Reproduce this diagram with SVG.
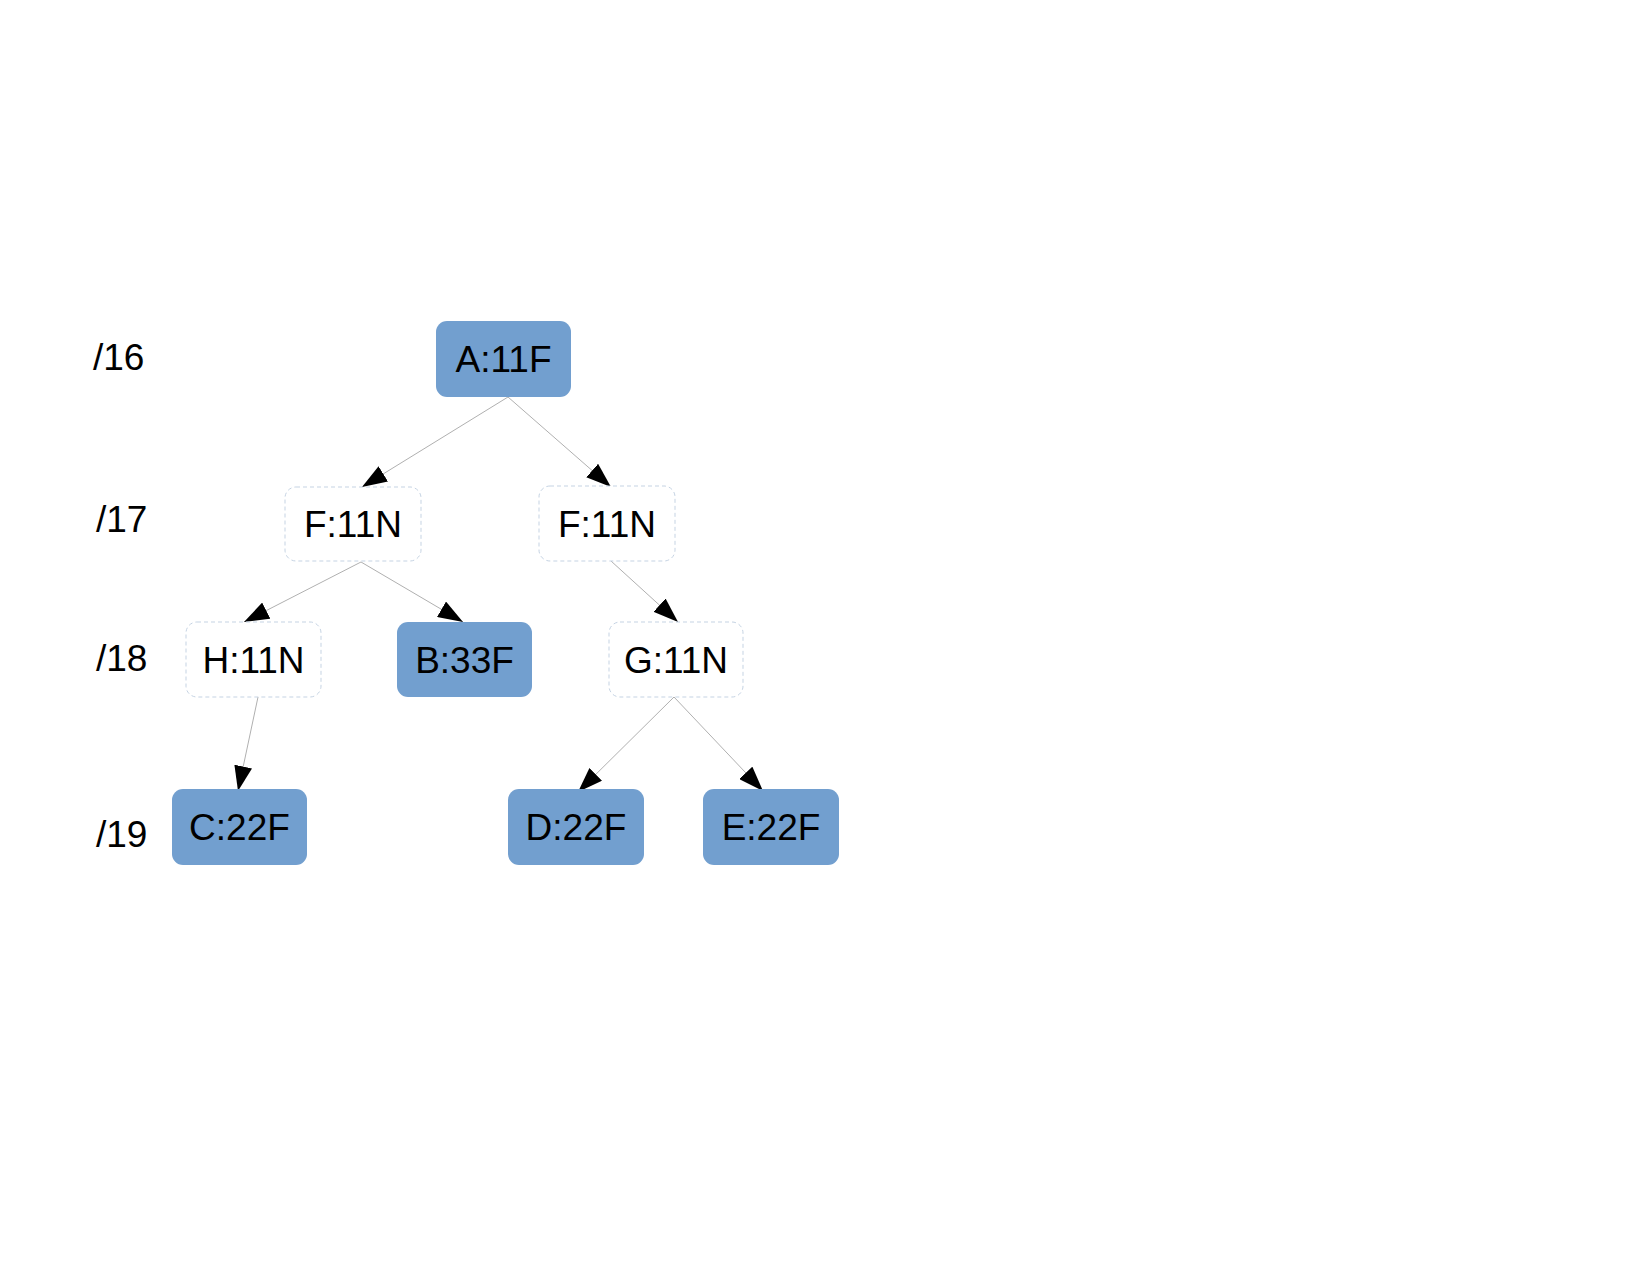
<svg xmlns="http://www.w3.org/2000/svg" width="1650" height="1275" viewBox="0 0 1650 1275">
<style>
.full rect{fill:#729fcf;stroke:none}
.empty rect{fill:#ffffff;stroke:#c5d3e3;stroke-width:1;stroke-dasharray:4 3}
text{font-family:"Liberation Sans",Arial,sans-serif;font-size:37px;fill:#000}
.node text{text-anchor:middle}
#edges line{stroke:#b0b0b0;stroke-width:1;marker-end:url(#ah)}
</style>
<defs>
<marker id="ah" markerUnits="userSpaceOnUse" markerWidth="25" markerHeight="18" refX="25" refY="9" orient="auto">
<path d="M0,0 L25,9 L0,18 z" fill="#000"/>
</marker>
</defs>
<rect width="1650" height="1275" fill="#fff"/>
<g id="levels">
<text x="93" y="370">/16</text>
<text x="96" y="532">/17</text>
<text x="96" y="671">/18</text>
<text x="96" y="847">/19</text>
</g>
<g id="edges">
<line x1="508" y1="397" x2="362" y2="487"/>
<line x1="508" y1="397" x2="611" y2="487"/>
<line x1="361" y1="562" x2="244" y2="622"/>
<line x1="361" y1="562" x2="463" y2="622"/>
<line x1="611" y1="561" x2="678" y2="622"/>
<line x1="258" y1="697" x2="238" y2="791"/>
<line x1="674" y1="697" x2="578" y2="792"/>
<line x1="674" y1="697" x2="763" y2="791"/>
</g>
<g id="nodeA" class="node full"><rect x="436" y="321" width="135" height="76" rx="11"/><text x="503.5" y="372">A:11F</text></g>
<g id="nodeF1" class="node empty"><rect x="285" y="487" width="136" height="74" rx="11"/><text x="353" y="537">F:11N</text></g>
<g id="nodeF2" class="node empty"><rect x="539" y="486" width="136" height="75" rx="11"/><text x="607" y="537">F:11N</text></g>
<g id="nodeH" class="node empty"><rect x="186" y="622" width="135" height="75" rx="11"/><text x="253.5" y="673">H:11N</text></g>
<g id="nodeB" class="node full"><rect x="397" y="622" width="135" height="75" rx="11"/><text x="464.5" y="673">B:33F</text></g>
<g id="nodeG" class="node empty"><rect x="609" y="622" width="134" height="75" rx="11"/><text x="676" y="673">G:11N</text></g>
<g id="nodeC" class="node full"><rect x="172" y="789" width="135" height="76" rx="11"/><text x="239.5" y="840">C:22F</text></g>
<g id="nodeD" class="node full"><rect x="508" y="789" width="136" height="76" rx="11"/><text x="576" y="840">D:22F</text></g>
<g id="nodeE" class="node full"><rect x="703" y="789" width="136" height="76" rx="11"/><text x="771" y="840">E:22F</text></g>
</svg>
